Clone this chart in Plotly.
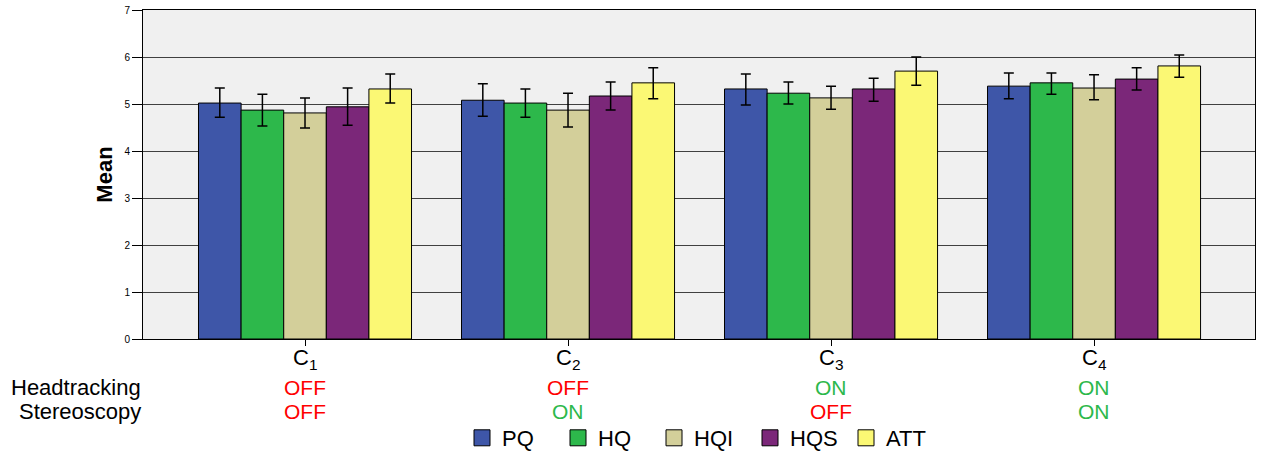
import plotly.graph_objects as go

categories = ["C<sub>1</sub>", "C<sub>2</sub>", "C<sub>3</sub>", "C<sub>4</sub>"]
series = ["PQ", "HQ", "HQI", "HQS", "ATT"]
colors = ["#3e56a8", "#2db84b", "#d3cf9a", "#7b2779", "#fbf874"]

means = {
    "PQ":  [5.02, 5.08, 5.32, 5.38],
    "HQ":  [4.87, 5.02, 5.23, 5.45],
    "HQI": [4.81, 4.87, 5.13, 5.34],
    "HQS": [4.94, 5.17, 5.32, 5.53],
    "ATT": [5.32, 5.45, 5.70, 5.81],
}
upper = {
    "PQ":  [5.34, 5.43, 5.64, 5.66],
    "HQ":  [5.21, 5.32, 5.47, 5.66],
    "HQI": [5.13, 5.23, 5.38, 5.62],
    "HQS": [5.34, 5.47, 5.55, 5.77],
    "ATT": [5.64, 5.77, 6.00, 6.04],
}
lower = {
    "PQ":  [4.72, 4.74, 4.98, 5.11],
    "HQ":  [4.53, 4.72, 5.00, 5.21],
    "HQI": [4.49, 4.51, 4.89, 5.09],
    "HQS": [4.55, 4.87, 5.06, 5.30],
    "ATT": [5.02, 5.11, 5.40, 5.57],
}
row_labels = ["Headtracking", "Stereoscopy"]
headtracking = ["OFF", "OFF", "ON", "ON"]
stereoscopy = ["OFF", "ON", "OFF", "ON"]
yticks = [0, 1, 2, 3, 4, 5, 6, 7]

RED = "#ff0000"
GREEN = "#2db84b"
font = "Liberation Sans, Arial, sans-serif"

fig = go.Figure()
for s, c in zip(series, colors):
    m = means[s]
    fig.add_trace(go.Bar(
        name=s, x=categories, y=m, showlegend=False,
        marker=dict(color=c, line=dict(color="black", width=1)),
        error_y=dict(type="data", symmetric=False,
                     array=[u - v for u, v in zip(upper[s], m)],
                     arrayminus=[v - l for v, l in zip(m, lower[s])],
                     color="black", thickness=1.5, width=5),
    ))
# legend proxies
for s, c in zip(series, colors):
    fig.add_trace(go.Scatter(
        name=s, x=[None], y=[None], mode="markers", showlegend=True,
        marker=dict(symbol="square", size=20, color=c, line=dict(color="black", width=1)),
    ))

W, H = 1261, 457
PLOT_L, PLOT_R, PLOT_T, PLOT_B = 143, 1255, 10, 339

def px_x(pix):
    return (pix - PLOT_L) / (PLOT_R - PLOT_L)

def px_y(pix):
    return (PLOT_B - pix) / (PLOT_B - PLOT_T)

ann = []
# category labels
for cat in categories:
    ann.append(dict(text=cat, x=cat, y=px_y(359), xref="x", yref="paper",
                    xanchor="center", yanchor="middle", showarrow=False,
                    font=dict(family=font, size=22, color="black")))
row_y = [387, 412]
for lab, yy in zip(row_labels, row_y):
    ann.append(dict(text=lab, x=px_x(143), y=px_y(yy), xref="paper", yref="paper",
                    xanchor="right", yanchor="middle", showarrow=False,
                    font=dict(family=font, size=22, color="black")))
for i, cat in enumerate(categories):
    for vals, yy in ((headtracking, row_y[0]), (stereoscopy, row_y[1])):
        ann.append(dict(text=vals[i], x=cat, y=px_y(yy), xref="x", yref="paper",
                        xanchor="center", yanchor="middle", showarrow=False,
                        font=dict(family=font, size=21,
                                  color=RED if vals[i] == "OFF" else GREEN)))

fig.update_layout(
    width=W, height=H,
    margin=dict(l=PLOT_L, r=W - PLOT_R, t=PLOT_T, b=H - PLOT_B, autoexpand=False),
    paper_bgcolor="white", plot_bgcolor="#f0f0f0",
    barmode="group", bargap=0.19, bargroupgap=0,
    font=dict(family=font, color="black"),
    showlegend=True,
    legend=dict(orientation="h", x=px_x(462), xanchor="left", y=px_y(438), yanchor="middle",
                font=dict(family=font, size=22, color="black"),
                itemwidth=30, itemsizing="trace", entrywidth=51, entrywidthmode="pixels",
                traceorder="normal", bgcolor="rgba(0,0,0,0)"),
    annotations=ann,
    xaxis=dict(range=[-0.616, 3.612], showgrid=False, ticks="outside", ticklen=6,
               tickcolor="black", showline=True, linecolor="black", linewidth=1, mirror=True,
               showticklabels=False, zeroline=False),
    yaxis=dict(range=[0, 7], tickvals=yticks, ticks="outside", ticklen=10, tickcolor="black",
               showline=True, linecolor="black", linewidth=1, mirror=True,
               gridcolor="#404040", gridwidth=1, zeroline=False,
               tickfont=dict(family=font, size=10, color="black"),
               title=dict(text="<b>Mean</b>", font=dict(family=font, size=22, color="black"), standoff=5)),
)

fig.write_html("out.html", config={"displayModeBar": False},
               post_script="document.body.style.margin='0';")
